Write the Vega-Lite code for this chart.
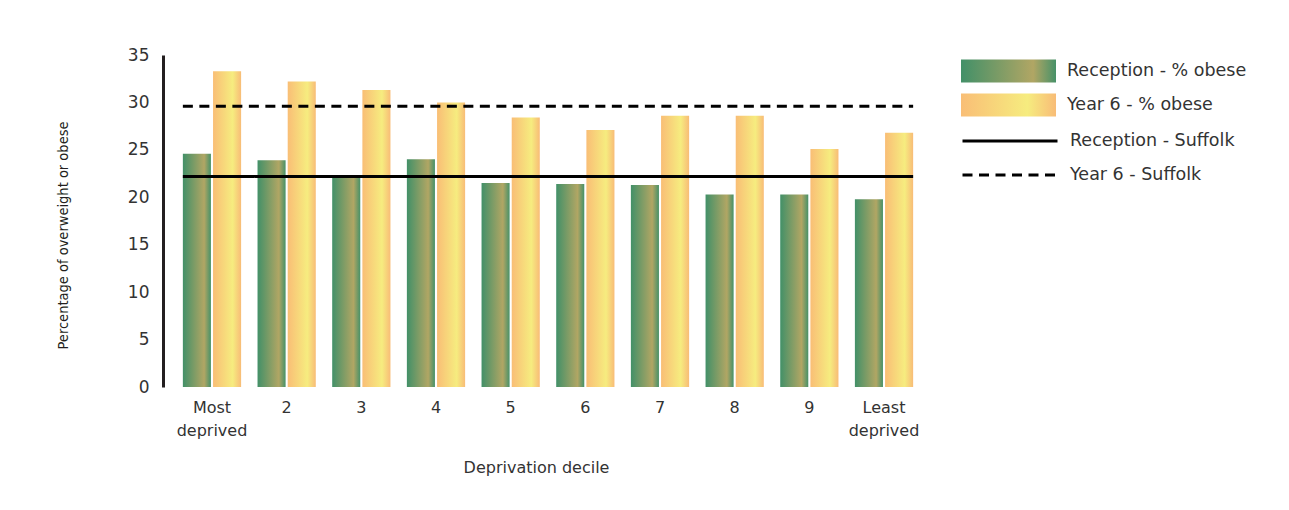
{
  "$schema": "https://vega.github.io/schema/vega-lite/v6.json",
  "width": 770,
  "height": 332,
  "autosize": {"type": "none"},
  "padding": {"left": 163, "top": 55, "right": 356, "bottom": 123},
  "background": "white",
  "config": {
    "view": {"stroke": null},
    "font": "DejaVu Sans",
    "axisX": {
      "title": "Deprivation decile",
      "titleFont": "DejaVu Sans",
      "titleFontSize": 16,
      "titleFontWeight": "normal",
      "titleColor": "#333333",
      "titleX": 373,
      "titleY": 80,
      "titleBaseline": "middle",
      "labelAngle": 0,
      "labelFontSize": 16,
      "labelColor": "#333333",
      "labelLineHeight": 23,
      "labelPadding": 12,
      "domain": false,
      "ticks": false
    },
    "axisY": {
      "titleFont": "DejaVu Sans Condensed",
      "titleFontSize": 14.5,
      "titleFontWeight": "normal",
      "titleColor": "#231f20",
      "titleX": -100,
      "titleY": 180,
      "titleAngle": -90,
      "titleBaseline": "middle",
      "labelFontSize": 17,
      "labelColor": "#333333",
      "labelPadding": 14,
      "ticks": false,
      "grid": false,
      "domainColor": "#231f20",
      "domainWidth": 3
    },
    "legend": {
      "orient": "none",
      "clipHeight": 34,
      "rowPadding": 0,
      "labelOffset": 11,
      "labelFontSize": 17.5,
      "labelColor": "#333333",
      "labelLimit": 300,
      "symbolOpacity": 1
    }
  },
  "resolve": {
    "scale": {"opacity": "independent"},
    "legend": {"opacity": "independent"}
  },
  "datasets": {
    "bars": [
      {"decile": "Most deprived", "group": "Reception - % obese", "value": 24.6},
      {"decile": "Most deprived", "group": "Year 6 - % obese", "value": 33.3},
      {"decile": "2", "group": "Reception - % obese", "value": 23.9},
      {"decile": "2", "group": "Year 6 - % obese", "value": 32.2},
      {"decile": "3", "group": "Reception - % obese", "value": 22.3},
      {"decile": "3", "group": "Year 6 - % obese", "value": 31.3},
      {"decile": "4", "group": "Reception - % obese", "value": 24.0},
      {"decile": "4", "group": "Year 6 - % obese", "value": 30.0},
      {"decile": "5", "group": "Reception - % obese", "value": 21.5},
      {"decile": "5", "group": "Year 6 - % obese", "value": 28.4},
      {"decile": "6", "group": "Reception - % obese", "value": 21.4},
      {"decile": "6", "group": "Year 6 - % obese", "value": 27.1},
      {"decile": "7", "group": "Reception - % obese", "value": 21.3},
      {"decile": "7", "group": "Year 6 - % obese", "value": 28.6},
      {"decile": "8", "group": "Reception - % obese", "value": 20.3},
      {"decile": "8", "group": "Year 6 - % obese", "value": 28.6},
      {"decile": "9", "group": "Reception - % obese", "value": 20.3},
      {"decile": "9", "group": "Year 6 - % obese", "value": 25.1},
      {"decile": "Least deprived", "group": "Reception - % obese", "value": 19.8},
      {"decile": "Least deprived", "group": "Year 6 - % obese", "value": 26.8}
    ],
    "lines": [
      {"line": "Reception - Suffolk", "value": 22.2},
      {"line": "Year 6 - Suffolk", "value": 29.6}
    ]
  },
  "layer": [
    {
      "data": {"name": "bars"},
      "transform": [{"filter": "datum.group === 'Reception - % obese'"}],
      "mark": {
        "type": "bar",
        "fill": {"gradient": "linear", "x1": 0, "y1": 0, "x2": 1, "y2": 0, "stops": [{"offset": 0, "color": "#429068"}, {"offset": 0.76, "color": "#b1a664"}, {"offset": 1, "color": "#479168"}]}
      },
      "encoding": {
        "x": {
          "field": "decile",
          "type": "nominal",
          "sort": ["Most deprived", "2", "3", "4", "5", "6", "7", "8", "9", "Least deprived"],
          "scale": {"domain": ["Most deprived", "2", "3", "4", "5", "6", "7", "8", "9", "Least deprived"], "paddingInner": 0.22, "paddingOuter": 0.266},
          "axis": {"title": "Deprivation decile", "labelExpr": "split(datum.label, ' ')"}
        },
        "xOffset": {
          "field": "group",
          "type": "nominal",
          "scale": {"domain": ["Reception - % obese", "Year 6 - % obese"], "paddingInner": 0.07, "paddingOuter": 0}
        },
        "y": {
          "field": "value",
          "type": "quantitative",
          "scale": {"domain": [0, 35], "nice": false},
          "axis": {"title": "Percentage of overweight or obese", "values": [0, 5, 10, 15, 20, 25, 30, 35]}
        },
        "opacity": {
          "field": "group",
          "type": "nominal",
          "scale": {"domain": ["Reception - % obese"], "range": [1]},
          "legend": {
            "title": null,
            "legendX": 798,
            "legendY": -1,
            "symbolType": "M-1,-0.242H1V0.242H-1Z",
            "symbolSize": 9025,
            "symbolStrokeWidth": 0
          }
        }
      }
    },
    {
      "data": {"name": "bars"},
      "transform": [{"filter": "datum.group === 'Year 6 - % obese'"}],
      "mark": {
        "type": "bar",
        "fill": {"gradient": "linear", "x1": 0, "y1": 0, "x2": 1, "y2": 0, "stops": [{"offset": 0, "color": "#f9be76"}, {"offset": 0.7, "color": "#f6ec7f"}, {"offset": 1, "color": "#f8bc77"}]}
      },
      "encoding": {
        "x": {
          "field": "decile",
          "type": "nominal",
          "sort": ["Most deprived", "2", "3", "4", "5", "6", "7", "8", "9", "Least deprived"],
          "scale": {"domain": ["Most deprived", "2", "3", "4", "5", "6", "7", "8", "9", "Least deprived"], "paddingInner": 0.22, "paddingOuter": 0.266},
          "axis": {"title": "Deprivation decile", "labelExpr": "split(datum.label, ' ')"}
        },
        "xOffset": {
          "field": "group",
          "type": "nominal",
          "scale": {"domain": ["Reception - % obese", "Year 6 - % obese"], "paddingInner": 0.07, "paddingOuter": 0}
        },
        "y": {
          "field": "value",
          "type": "quantitative",
          "scale": {"domain": [0, 35], "nice": false},
          "axis": {"title": "Percentage of overweight or obese", "values": [0, 5, 10, 15, 20, 25, 30, 35]}
        },
        "opacity": {
          "field": "group",
          "type": "nominal",
          "scale": {"domain": ["Year 6 - % obese"], "range": [1]},
          "legend": {
            "title": null,
            "legendX": 798,
            "legendY": 33,
            "symbolType": "M-1,-0.242H1V0.242H-1Z",
            "symbolSize": 9025,
            "symbolStrokeWidth": 0
          }
        }
      }
    },
    {
      "data": {"name": "lines"},
      "mark": {"type": "rule", "strokeWidth": 3, "color": "black"},
      "encoding": {
        "x": {"datum": "Most deprived", "bandPosition": 0},
        "x2": {"datum": "Least deprived", "bandPosition": 1},
        "y": {"field": "value", "type": "quantitative"},
        "strokeDash": {
          "field": "line",
          "type": "nominal",
          "scale": {
            "domain": ["Reception - Suffolk", "Year 6 - Suffolk"],
            "range": [[1, 0], [10, 6.5]]
          },
          "legend": {
            "title": null,
            "legendX": 798,
            "legendY": 69,
            "symbolType": "stroke",
            "symbolSize": 9025,
            "symbolStrokeWidth": 3,
            "symbolStrokeColor": "black"
          }
        }
      }
    }
  ]
}
